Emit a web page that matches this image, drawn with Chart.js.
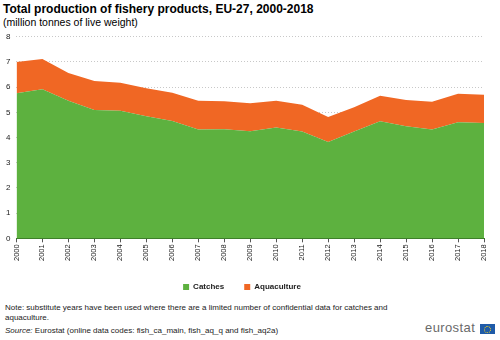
<!DOCTYPE html>
<html>
<head>
<meta charset="utf-8">
<script src="https://cdn.jsdelivr.net/npm/chart.js@4"></script>
<style>
  body { margin: 0; width: 500px; height: 340px; position: relative; font-family: "Liberation Sans", Arial, sans-serif; background: #fff; overflow: hidden; }
  #title { position: absolute; left: 3px; top: 2px; font-size: 12px; font-weight: bold; color: #000; }
  #sub { position: absolute; left: 3px; top: 16px; font-size: 10.5px; color: #000; }
  #wrap { position: absolute; left: 0; top: 26px; width: 500px; height: 275px; }
  #note { position: absolute; left: 5px; top: 303px; font-size: 8px; color: #222; line-height: 10px; width: 400px; }
  #src { position: absolute; left: 5px; top: 326px; font-size: 8px; color: #222; }
  #logo { position: absolute; left: 425px; top: 320px; font-size: 13px; color: #6a6a6a; letter-spacing: 0.4px; }
  #flag { position: absolute; left: 480px; top: 324px; width: 15px; height: 10px; background: #1f5ba8; }
  #flag div { position: absolute; left: 4px; top: 2px; width: 5px; height: 5px; border: 1px dotted #f3d321; border-radius: 50%; }
</style>
</head>
<body>
<div id="title">Total production of fishery products, EU-27, 2000-2018</div>
<div id="sub">(million  tonnes of live weight)</div>
<div id="wrap"><canvas id="myChart"></canvas></div>
<div id="note">Note: substitute years have been used where there are a limited number of confidential data for catches and aquaculture.</div>
<div id="src"><i>Source:</i> Eurostat (online data codes: fish_ca_main, fish_aq_q and fish_aq2a)</div>
<div id="logo">eurostat</div>
<div id="flag"><div></div></div>
<script>
var years = ['2000','2001','2002','2003','2004','2005','2006','2007','2008','2009',
             '2010','2011','2012','2013','2014','2015','2016','2017','2018'];
var catches = [5.76, 5.92, 5.46, 5.09, 5.06, 4.85, 4.66, 4.32, 4.33, 4.25,
               4.40, 4.24, 3.82, 4.24, 4.65, 4.45, 4.32, 4.61, 4.58];
var aquaculture = [1.24, 1.20, 1.10, 1.16, 1.12, 1.11, 1.12, 1.14, 1.11, 1.11,
                   1.06, 1.06, 1.00, 0.96, 1.01, 1.04, 1.10, 1.13, 1.12];

Chart.defaults.font.family = '"Liberation Sans", Arial, sans-serif';
Chart.defaults.color = '#222';

var ctx = document.getElementById('myChart').getContext('2d');
var myChart = new Chart(ctx, {
  type: 'line',
  data: {
    labels: years,
    datasets: [{
      label: 'Catches',
      data: catches,
      backgroundColor: '#5db13f',
      borderColor: '#5db13f',
      borderWidth: 0,
      pointRadius: 0,
      fill: 'origin',
      tension: 0
    }, {
      label: 'Aquaculture',
      data: aquaculture,
      backgroundColor: '#f06724',
      borderColor: '#f06724',
      borderWidth: 0,
      pointRadius: 0,
      fill: '-1',
      tension: 0
    }]
  },
  options: {
    responsive: true,
    maintainAspectRatio: false,
    animation: false,
    layout: { padding: { left: 0, right: 16, top: 2, bottom: 0 } },
    scales: {
      x: {
        offset: false,
        grid: { drawOnChartArea: false, tickLength: 4, color: '#555' },
        border: { color: '#3e7f2a', width: 1 },
        ticks: { minRotation: 90, maxRotation: 90, autoSkip: false, font: { size: 7.5 }, padding: 2 }
      },
      y: {
        stacked: true,
        min: 0,
        max: 8,
        ticks: { stepSize: 1, font: { size: 8 }, padding: 6 },
        grid: { color: '#c8c8c8', drawTicks: false },
        border: { display: false, dash: [1, 2] }
      }
    },
    plugins: {
      legend: {
        position: 'bottom',
        labels: { boxWidth: 6, boxHeight: 6, padding: 20, font: { size: 8, weight: 'bold' } }
      },
      tooltip: { enabled: false }
    }
  }
});
</script>
</body>
</html>
